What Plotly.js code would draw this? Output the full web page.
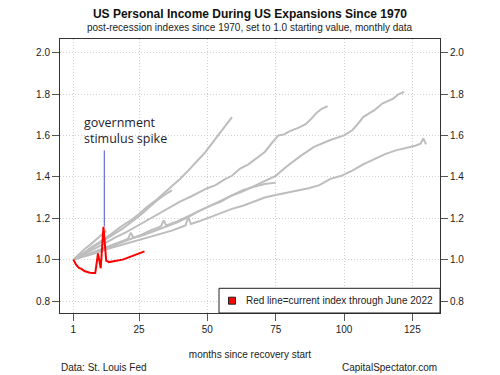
<!DOCTYPE html>
<html>
<head>
<meta charset="utf-8">
<script src="https://cdn.plot.ly/plotly-3.0.1.min.js"></script>
<style>html,body{margin:0;padding:0;background:#fff;}#chart{width:500px;height:375px;}</style>
</head>
<body>
<div id="chart"></div>
<script>
// ---- Data ----
// 1975-1980 expansion
var monthsA = [1,4,7,10,13,16,19,22,25,28,31,34,37,40,43,46,49,51,53,55,57,59];
var valuesA = [1.0,1.025,1.055,1.08,1.105,1.135,1.165,1.19,1.22,1.255,1.285,1.32,1.355,1.39,1.43,1.47,1.515,1.55,1.585,1.62,1.65,1.688];
// 1982-1990 expansion
var monthsB = [1,4,8,12,16,20,24,28,32,36,40,44,47,50,53,56,59,62,65,68,71,74,76,78,80,83,86,88,90,92,94];
var valuesB = [1.0,1.02,1.05,1.075,1.105,1.13,1.16,1.19,1.22,1.25,1.28,1.305,1.327,1.345,1.36,1.385,1.405,1.44,1.46,1.49,1.52,1.57,1.6,1.605,1.62,1.635,1.655,1.68,1.71,1.73,1.742];
// 1991-2001 expansion
var monthsC = [1,5,9,13,17,21,22,23,27,31,35,39,43,47,51,55,59,63,67,71,75,79,84,89,95,100,103,105,107,109,111,114,116,118,120,122];
var valuesC = [1.0,1.02,1.04,1.06,1.08,1.1,1.13,1.105,1.12,1.14,1.16,1.18,1.205,1.235,1.26,1.285,1.31,1.33,1.355,1.38,1.405,1.45,1.5,1.545,1.578,1.6,1.625,1.655,1.689,1.705,1.721,1.754,1.765,1.778,1.8,1.81];
// 2001-2007 expansion
var monthsE = [1,5,9,13,17,21,25,29,33,34,35,39,43,47,51,55,59,63,67,71,75];
var valuesE = [1.0,1.02,1.035,1.055,1.075,1.095,1.115,1.14,1.16,1.19,1.165,1.185,1.21,1.238,1.26,1.28,1.31,1.335,1.352,1.365,1.372];
// 2009-2020 expansion
var monthsD = [1,5,9,13,17,21,25,29,33,37,41,42,43,44,47,51,55,59,63,67,71,75,79,83,87,91,95,99,103,107,111,115,119,123,126,128,129,130];
var valuesD = [1.0,1.015,1.03,1.05,1.065,1.08,1.095,1.11,1.125,1.14,1.16,1.165,1.205,1.172,1.185,1.206,1.225,1.245,1.26,1.28,1.3,1.312,1.322,1.335,1.345,1.36,1.39,1.405,1.43,1.46,1.485,1.51,1.528,1.54,1.55,1.56,1.585,1.557];
// 1970-1973 expansion
var monthsF = [1,4,7,10,13,16,19,22,25,28,31,34,37];
var valuesF = [1.0,1.025,1.05,1.075,1.1,1.125,1.15,1.18,1.21,1.245,1.28,1.31,1.335];
// 1980-1981 expansion
var monthsG = [1,3,5,7,9,11,13];
var valuesG = [1.0,1.025,1.05,1.07,1.095,1.12,1.14];
// current expansion (through June 2022)
var monthsNow = [1,2,3,4,5,6,7,8,9,10,11,12,13,14,15,16,17,18,19,20,21,22,23,24,25,26,27];
var valuesNow = [1.0,0.975,0.96,0.955,0.945,0.94,0.937,0.935,0.935,1.03,0.958,1.158,0.995,0.988,0.99,0.995,0.997,0.998,1.0,1.005,1.01,1.015,1.02,1.025,1.03,1.035,1.04];

var xTicks = [1,25,50,75,100,125];
var xTickText = ['1','25','50','75','100','125'];
var yTicks = [0.8,1.0,1.2,1.4,1.6,1.8,2.0];
var yTickText = ['0.8','1.0','1.2','1.4','1.6','1.8','2.0'];

var spikeMonth = 12.3, spikeTop = 1.16, spikeLabelBase = 1.528;

// ---- Chart ----
var GRAY = '#bdbdbd';
var grayRuns = [[monthsF,valuesF],[monthsA,valuesA],[monthsG,valuesG],[monthsB,valuesB],[monthsC,valuesC],[monthsE,valuesE],[monthsD,valuesD]];
var traces = grayRuns.map(function(r){
  return {x:r[0], y:r[1], type:'scatter', mode:'lines', line:{color:GRAY, width:2}, hoverinfo:'skip', showlegend:false};
});
traces.push({x:monthsNow, y:valuesNow, type:'scatter', mode:'lines', line:{color:'#ff0000', width:2}, yaxis:'y2', showlegend:false, hoverinfo:'skip'});

// pixel -> paper helpers (plot area: x 60..440, y 39..313)
function PX(p){ return (p-60)/380; }
function PY(p){ return (313-p)/274; }

var yRange = [0.742, 2.066];
var FONT = 'Liberation Sans, Arial, sans-serif';
var TXT = '#222';
var GRID = '#d2d2d2';

var layout = {
  width:500, height:375,
  margin:{l:60, r:60, t:39, b:62, pad:0},
  paper_bgcolor:'#ffffff', plot_bgcolor:'#ffffff',
  showlegend:false,
  font:{family:FONT, size:10, color:TXT},
  title:{text:'<b>US Personal Income During US Expansions Since 1970</b>', font:{family:FONT, size:12, color:'#111'},
         x:0.5, xanchor:'center', xref:'paper', yref:'container', y:1-14/375, yanchor:'middle'},
  xaxis:{range:[-3.9,135.1], tickvals:xTicks, ticktext:xTickText, showgrid:true, gridcolor:GRID, griddash:'1px,2px', gridwidth:1,
         zeroline:false, showline:true, mirror:true, linecolor:'#333', linewidth:1,
         ticks:'outside', ticklen:7, tickcolor:'#555', tickfont:{size:10, color:TXT},
         title:{text:'months since recovery start', font:{size:10, color:TXT}, standoff:16}},
  yaxis:{range:yRange, tickvals:yTicks, ticktext:yTickText, showgrid:true, gridcolor:GRID, griddash:'1px,2px', gridwidth:1,
         zeroline:false, showline:true, mirror:true, linecolor:'#333', linewidth:1,
         ticks:'outside', ticklen:7, tickcolor:'#555', tickfont:{size:10, color:TXT}},
  yaxis2:{range:yRange, overlaying:'y', side:'right', tickvals:yTicks, ticktext:yTickText, showgrid:false, zeroline:false,
          showline:false, ticks:'outside', ticklen:7, tickcolor:'#555', tickfont:{size:10, color:TXT}},
  shapes:[
    {type:'line', xref:'x', yref:'y', x0:spikeMonth, x1:spikeMonth, y0:spikeTop, y1:spikeLabelBase, line:{color:'#4a55cc', width:1}, layer:'above'},
    {type:'rect', xref:'paper', yref:'paper', x0:PX(219), x1:PX(440), y0:PY(313), y1:PY(288.3), line:{color:'#222', width:1}, fillcolor:'#ffffff', layer:'above'},
    {type:'rect', xref:'paper', yref:'paper', x0:PX(228.5), x1:PX(235.5), y0:PY(304.2), y1:PY(297.2), line:{color:'#222', width:1}, fillcolor:'#ff0000', layer:'above'}
  ],
  annotations:[
    {text:'post-recession indexes since 1970, set to 1.0 starting value, monthly data', xref:'paper', yref:'paper', x:0.5, y:PY(27), xanchor:'center', yanchor:'middle', showarrow:false, font:{size:10, color:TXT}},
    {text:'government<br>stimulus spike', xref:'paper', yref:'paper', x:PX(81.5), y:PY(130.5), xanchor:'left', yanchor:'middle', align:'left', showarrow:false, font:{family:'Open Sans, sans-serif', size:12.5, color:'#1e2230'}},
    {text:'Red line=current index through June 2022', xref:'paper', yref:'paper', x:PX(244), y:PY(300.7), xanchor:'left', yanchor:'middle', showarrow:false, font:{size:10, color:TXT}},
    {text:'Data: St. Louis Fed', xref:'paper', yref:'paper', x:PX(58.5), y:PY(367), xanchor:'left', yanchor:'middle', showarrow:false, font:{size:10, color:TXT}},
    {text:'CapitalSpectator.com', xref:'paper', yref:'paper', x:PX(439), y:PY(367), xanchor:'right', yanchor:'middle', showarrow:false, font:{size:10, color:TXT}}
  ]
};

Plotly.newPlot('chart', traces, layout, {staticPlot:true, displayModeBar:false});
</script>
</body>
</html>
